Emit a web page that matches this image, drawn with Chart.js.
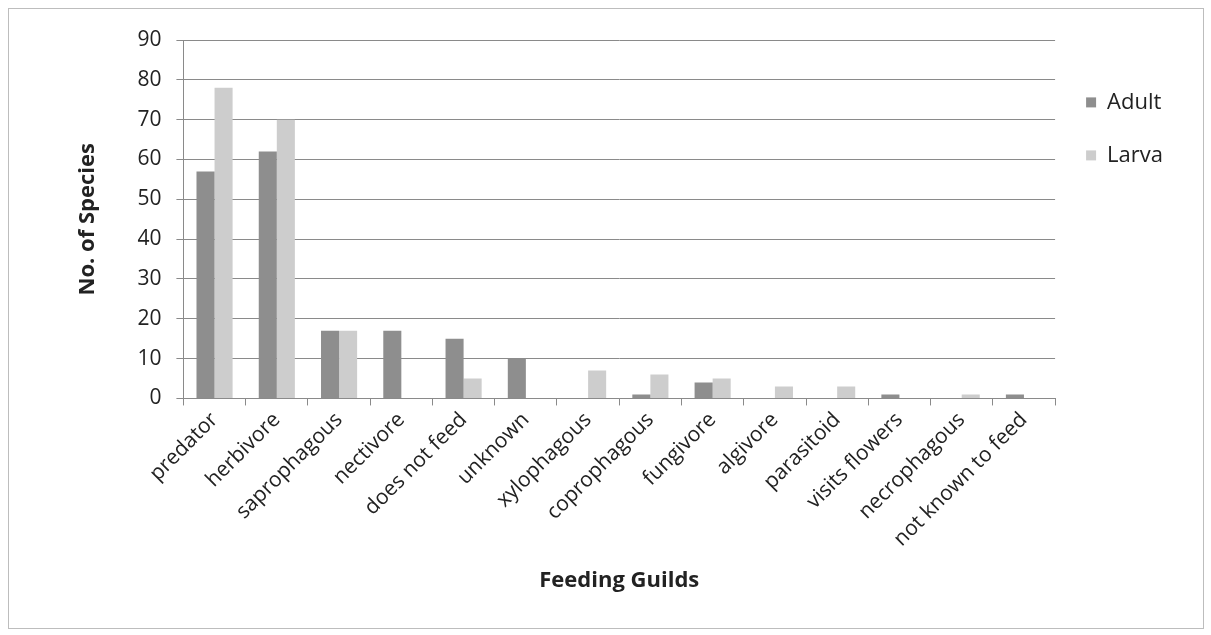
<!DOCTYPE html>
<html>
<head>
<meta charset="utf-8">
<script src="https://cdn.jsdelivr.net/npm/chart.js@4/dist/chart.umd.min.js"></script>
<style>
  body { margin: 0; background: #fff; }
  #frame {
    position: absolute; left: 8px; top: 8px;
    width: 1194px; height: 619px;
    border: 1px solid #bdbdbd;
  }
</style>
</head>
<body>
<div id="frame"><canvas id="bar-chart"></canvas></div>
<script>
// feeding guild counts
const guilds = ['predator', 'herbivore', 'saprophagous', 'nectivore', 'does not feed', 'unknown',
  'xylophagous', 'coprophagous', 'fungivore', 'algivore', 'parasitoid', 'visits flowers',
  'necrophagous', 'not known to feed'];
const adult = [57, 62, 17, 17, 15, 10, 0, 1, 4, 0, 0, 1, 0, 1];
const larva = [78, 70, 17, 0, 5, 0, 7, 6, 5, 3, 3, 0, 1, 0];
const yTicks = [0, 10, 20, 30, 40, 50, 60, 70, 80, 90];

const font = "'Open Sans', 'Liberation Sans', sans-serif";

const config = {
  type: 'bar',
  data: {
    labels: guilds,
    datasets: [
      { label: 'Adult', data: adult, backgroundColor: '#8e8e8e' },
      { label: 'Larva', data: larva, backgroundColor: '#cdcdcd' },
    ],
  },
  options: {
    responsive: true,
    maintainAspectRatio: false,
    animation: false,
    layout: { padding: { left: 66, top: 31, right: 30, bottom: 30 } },
    datasets: { bar: { categoryPercentage: 0.58, barPercentage: 1 } },
    plugins: {
      legend: {
        position: 'right',
        align: 'start',
        title: { display: true, text: ' ', padding: 3 },
        labels: {
          boxWidth: 10, boxHeight: 10, padding: 31,
          color: '#222', font: { family: font, size: 22 },
        },
      },
      tooltip: { enabled: false },
    },
    scales: {
      x: {
        grid: { display: true, drawOnChartArea: false, offset: true, color: '#8a8a8a', tickLength: 7 },
        border: { color: '#8a8a8a' },
        ticks: { maxRotation: 45, minRotation: 45, color: '#222', padding: 2, font: { family: font, size: 21 } },
        title: { display: true, text: 'Feeding Guilds', color: '#222', padding: { top: 14 },
          font: { family: font, size: 22, weight: 'bold' } },
      },
      y: {
        min: 0, max: 90,
        afterBuildTicks: (axis) => { axis.ticks = yTicks.map(v => ({ value: v })); },
        grid: { color: '#8a8a8a', tickLength: 7 },
        border: { color: '#8a8a8a' },
        ticks: { color: '#222', padding: 15, font: { family: font, size: 21 } },
        title: { display: true, text: 'No. of Species', color: '#222', padding: { top: 0, bottom: 21 },
          font: { family: font, size: 22, weight: 'bold' } },
      },
    },
  },
};

const canvas = document.getElementById('bar-chart');
if (canvas) {
  window.myBar = new Chart(canvas.getContext('2d'), config);
}
</script>
</body>
</html>
